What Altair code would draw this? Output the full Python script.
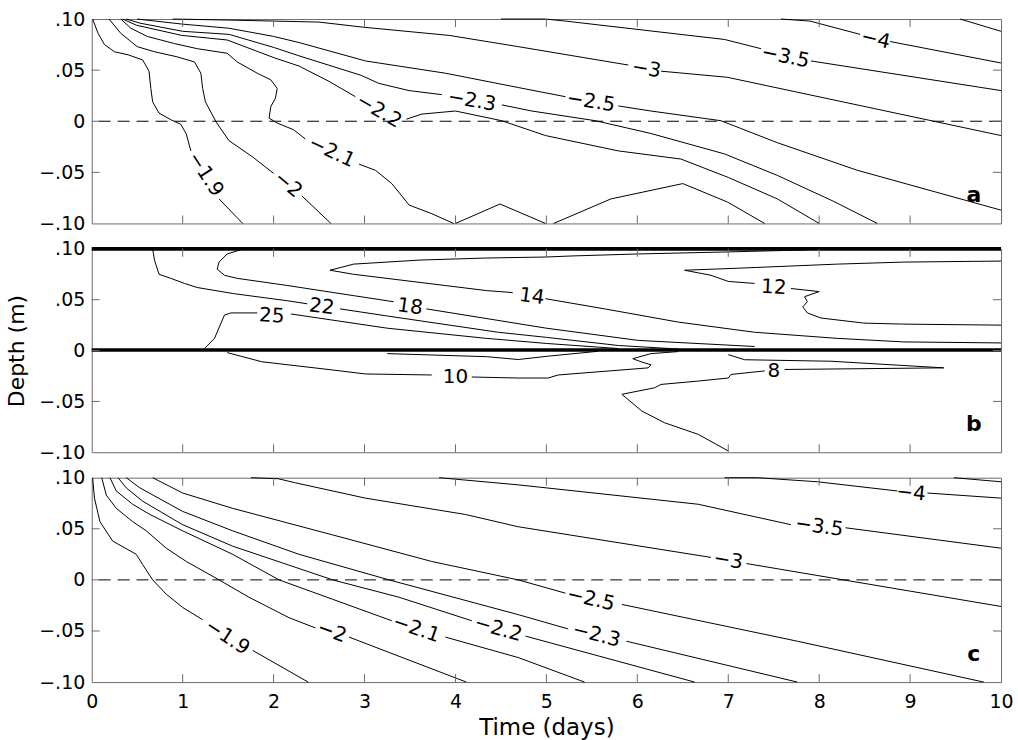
import altair as alt
import pandas as pd

# ---------------- shared axis values ----------------
X_TICK_LABELS = [0, 1, 2, 3, 4, 5, 6, 7, 8, 9, 10]
X_TICK_INNER = [1, 2, 3, 4, 5, 6, 7, 8, 9]
Y_TICK_LABELS = [-0.10, -0.05, 0.0, 0.05, 0.10]
Y_TICK_INNER = [-0.05, 0.0, 0.05]
ZERO_LINE = [0.0]

# ---------------- panel a (None = gap for the inline label) ----------------
A_19_X = [0.01, 0.07, 0.14, 0.25, 0.40, 0.56, 0.63, 0.65, 0.67, 0.74, 0.87, 0.98, 1.04, 1.09, None, 1.40, 1.66]
A_19_Y = [0.100, 0.086, 0.075, 0.068, 0.065, 0.060, 0.049, 0.032, 0.019, 0.008, 0.0015, -0.003, -0.0125, -0.029, None, -0.076, -0.100]
A_20_X = [0.19, 0.32, 0.50, 0.69, 0.94, 1.13, 1.20, 1.22, 1.25, 1.37, 1.51, 1.77, 2.00, None, 2.31, 2.63]
A_20_Y = [0.100, 0.086, 0.073, 0.068, 0.063, 0.058, 0.047, 0.032, 0.019, -0.001, -0.019, -0.035, -0.051, None, -0.073, -0.100]
A_21_X = [0.32, 0.43, 0.61, 0.91, 1.16, 1.49, 1.60, 1.82, 1.97, 2.04, 2.02, 1.97, 1.95, 2.04, 2.22, 2.35, None, 2.94, 3.12, 3.30, 3.49, 3.74, 3.98]
A_21_Y = [0.100, 0.091, 0.083, 0.076, 0.071, 0.0665, 0.058, 0.047, 0.0405, 0.032, 0.0226, 0.0144, 0.0031, -0.0018, -0.0083, -0.0174, None, -0.042, -0.048, -0.061, -0.082, -0.0905, -0.100]
A_22_X = [0.34, 0.49, 0.99, 1.49, 2.01, 2.28, 2.61, 2.90, None, 3.46, 3.63, 4.00, 4.51, 4.99, 5.79, 6.48, 7.00, 7.54, 8.00]
A_22_Y = [0.100, 0.094, 0.084, 0.0795, 0.062, 0.054, 0.039, 0.024, None, 0.002, 0.007, 0.010, 0.0005, -0.014, -0.029, -0.037, -0.055, -0.076, -0.100]
A_23_X = [0.38, 0.53, 1.00, 1.51, 2.01, 2.28, 2.96, 3.16, 3.49, 3.85, None, 4.51, 4.84, 5.54, 6.15, 6.96, 7.54, 8.15, 8.64]
A_23_Y = [0.100, 0.096, 0.088, 0.085, 0.072, 0.064, 0.045, 0.037, 0.030, 0.026, None, 0.016, 0.010, 0.0005, -0.012, -0.032, -0.053, -0.078, -0.100]
A_25_X = [0.50, 1.00, 1.51, 2.00, 2.28, 3.01, 3.89, 4.69, 5.21, None, 5.79, 6.15, 6.92, 7.54, 8.42, 10.0]
A_25_Y = [0.100, 0.095, 0.091, 0.083, 0.077, 0.059, 0.047, 0.033, 0.024, None, 0.015, 0.010, 0.0005, -0.021, -0.048, -0.087]
A_30_X = [0.89, 1.51, 2.50, 2.99, 3.93, 4.69, 5.90, None, 6.26, 6.99, 10.0]
A_30_Y = [0.100, 0.099, 0.097, 0.092, 0.084, 0.073, 0.055, None, 0.049, 0.043, -0.014]
A_35_X = [4.50, 4.99, 5.21, 6.96, 7.36, None, 7.91, 10.0]
A_35_Y = [0.100, 0.100, 0.098, 0.080, 0.071, None, 0.059, 0.030]
A_40_X = [7.58, 7.90, 8.45, None, 8.78, 10.0]
A_40_Y = [0.100, 0.098, 0.085, None, 0.078, 0.057]
A_45_X = [9.55, 10.0]
A_45_Y = [0.100, 0.088]
A_V1_X = [4.00, 4.49, 4.99]
A_V1_Y = [-0.100, -0.081, -0.100]
A_V2_X = [5.08, 5.71, 6.50, 6.99, 7.40]
A_V2_Y = [-0.100, -0.076, -0.061, -0.079, -0.100]

A_LAB_T = ["−1.9", "−2", "−2.1", "−2.2", "−2.3", "−2.5", "−3", "−3.5", "−4"]
A_LAB_X = [1.25, 2.16, 2.64, 3.16, 4.18, 5.49, 6.10, 7.63, 8.62]
A_LAB_Y = [-0.052, -0.062, -0.030, 0.010, 0.020, 0.019, 0.051, 0.063, 0.080]
A_LAB_ANG = [57, 40, 25, 30, 10, 9, 10, 12, 13]

# ---------------- panel b ----------------
B_TOP_X = [0.0, 10.0]
B_TOP_Y = [0.100, 0.100]
B_MID_X = [0.0, 10.0]
B_MID_Y = [0.0005, 0.0005]
B_25_X = [1.24, 1.35, 1.46, 1.53, 1.82, None, 2.19, 3.25, 4.34, 5.00, 5.79]
B_25_Y = [0.002, 0.012, 0.035, 0.037, 0.037, None, 0.036, 0.022, 0.012, 0.007, 0.002]
B_22_X = [0.67, 0.69, 0.74, 0.87, 1.02, 1.16, 1.56, 2.15, 2.37, None, 2.73, 3.25, 4.47, 5.00, 5.79, 6.45]
B_22_Y = [0.100, 0.089, 0.075, 0.071, 0.066, 0.062, 0.056, 0.049, 0.046, None, 0.041, 0.034, 0.018, 0.013, 0.005, 0.0015]
B_18_X = [1.67, 1.49, 1.40, 1.38, 1.46, 1.60, 2.15, 2.88, 3.32, None, 3.68, 5.00, 6.01, 7.29]
B_18_Y = [0.100, 0.095, 0.087, 0.080, 0.074, 0.071, 0.064, 0.054, 0.048, None, 0.041, 0.022, 0.010, 0.004]
B_14_X = [7.87, 7.00, 6.01, 5.27, 5.00, 4.34, 3.61, 2.88, 2.62, 2.88, 3.61, 4.34, 4.63, None, 4.99, 5.64, 6.45, 7.29, 8.20, 8.93, 10.0]
B_14_Y = [0.099, 0.097, 0.095, 0.093, 0.092, 0.091, 0.089, 0.085, 0.079, 0.075, 0.067, 0.059, 0.057, None, 0.051, 0.041, 0.028, 0.018, 0.012, 0.0085, 0.0075]
B_12_X = [10.0, 8.93, 8.20, 7.11, 6.52, 6.81, 7.00, 7.29, None, 7.69, 8.00, 7.84, 7.87, 7.82, 7.87, 8.02, 8.49, 8.93, 10.0]
B_12_Y = [0.088, 0.087, 0.085, 0.081, 0.079, 0.074, 0.068, 0.066, None, 0.061, 0.058, 0.053, 0.048, 0.043, 0.037, 0.032, 0.027, 0.026, 0.025]
B_10_X = [1.49, 1.87, 2.64, 3.01, 3.74, None, 4.18, 4.69, 5.02, 5.13, 6.12, 6.15, 6.04, 5.95, 6.15, 6.45]
B_10_Y = [-0.002, -0.011, -0.019, -0.023, -0.024, None, -0.026, -0.027, -0.027, -0.024, -0.017, -0.014, -0.011, -0.008, -0.003, -0.001]
B_LENS_X = [3.25, 4.34, 4.69, 5.02, 5.57]
B_LENS_Y = [-0.003, -0.006, -0.0088, -0.0055, -0.0007]
B_8_X = [7.00, 7.18, 8.13, 9.37, 7.62, None, 7.40, 7.03, 7.00, 6.67, 6.26, 6.19, 5.83, 6.05, 6.30, 6.67, 7.00]
B_8_Y = [-0.004, -0.009, -0.0105, -0.017, -0.0186, None, -0.020, -0.0235, -0.027, -0.030, -0.0333, -0.0366, -0.043, -0.0595, -0.071, -0.0824, -0.0987]

B_LAB_T = ["25", "22", "18", "14", "12", "10", "8"]
B_LAB_X = [1.98, 2.53, 3.50, 4.84, 7.50, 4.00, 7.50]
B_LAB_Y = [0.034, 0.043, 0.043, 0.053, 0.062, -0.026, -0.0206]
B_LAB_ANG = [3, 7, 8, 8, 3, 0, 0]

# ---------------- panel c ----------------
C_19_X = [0.01, 0.03, 0.09, 0.23, 0.49, 0.56, 0.67, 0.82, 1.00, 1.22, None, 1.77, 2.38]
C_19_Y = [0.100, 0.080, 0.057, 0.038, 0.025, 0.015, 0.000, -0.014, -0.027, -0.039, None, -0.069, -0.100]
C_20_X = [0.11, 0.16, 0.27, 0.45, 0.60, 0.82, 1.04, 1.40, 1.73, 2.17, 2.46, None, 2.83, 4.12]
C_20_Y = [0.100, 0.083, 0.070, 0.057, 0.048, 0.031, 0.018, 0.000, -0.017, -0.037, -0.047, None, -0.056, -0.100]
C_21_X = [0.20, 0.27, 0.45, 0.64, 1.00, 1.55, 2.06, 2.65, 3.30, None, 3.89, 4.69, 5.42]
C_21_Y = [0.100, 0.087, 0.074, 0.064, 0.048, 0.025, 0.000, -0.019, -0.040, None, -0.056, -0.076, -0.100]
C_22_X = [0.29, 0.38, 0.56, 1.00, 1.55, 2.65, 3.38, 4.18, None, 4.77, 6.63]
C_22_Y = [0.100, 0.090, 0.077, 0.054, 0.033, 0.000, -0.017, -0.040, None, -0.055, -0.100]
C_23_X = [0.38, 0.53, 1.00, 1.55, 2.28, 3.27, 4.69, 5.24, None, 5.88, 7.76]
C_23_Y = [0.100, 0.090, 0.067, 0.048, 0.025, 0.000, -0.034, -0.048, None, -0.060, -0.100]
C_25_X = [0.67, 1.00, 1.55, 2.65, 3.74, 4.69, 5.21, None, 5.83, 7.76, 9.81]
C_25_Y = [0.100, 0.085, 0.070, 0.044, 0.018, 0.000, -0.013, None, -0.024, -0.060, -0.100]
C_30_X = [1.75, 2.05, 2.24, 3.01, 4.11, 4.69, 6.81, None, 7.20, 10.0]
C_30_Y = [0.100, 0.099, 0.095, 0.080, 0.064, 0.052, 0.022, None, 0.016, -0.026]
C_35_X = [3.82, 4.69, 6.67, 7.69, None, 8.29, 10.0]
C_35_Y = [0.100, 0.093, 0.074, 0.054, None, 0.051, 0.031]
C_40_X = [6.96, 7.32, 7.98, 8.86, None, 9.19, 10.0]
C_40_Y = [0.100, 0.100, 0.096, 0.087, None, 0.085, 0.080]
C_45_X = [9.48, 10.0]
C_45_Y = [0.100, 0.096]

C_LAB_T = ["−1.9", "−2", "−2.1", "−2.2", "−2.3", "−2.5", "−3", "−3.5", "−4"]
C_LAB_X = [1.49, 2.64, 3.57, 4.47, 5.55, 5.49, 7.00, 8.00, 9.01]
C_LAB_Y = [-0.056, -0.051, -0.048, -0.048, -0.054, -0.019, 0.019, 0.052, 0.085]
C_LAB_ANG = [33, 20, 19, 16, 14, 13, 9.5, 8, 6]

PANEL_LETTERS = ["a", "b", "c"]
LETTER_X = 9.70
LETTER_Y = -0.079

# ---------------- styling ----------------
W = 912
HEIGHTS = [205, 204, 205]
FRAME = "#6a6a6a"
FONT = "DejaVu Sans"
XS = alt.Scale(domain=[0, 10], nice=False, zero=False)
YS = alt.Scale(domain=[-0.1, 0.1], nice=False, zero=False)
YLABEL = "datum.value == 0 ? '0' : replace(format(datum.value, '.2f'), '0.', '.')"


def lines_frame(lines):
    rows = []
    for name, xs, ys in lines:
        seg = 0
        for i, (x, y) in enumerate(zip(xs, ys)):
            if x is None:
                seg += 1
                continue
            rows.append({"x": x, "y": y, "seg": f"{name}-{seg}", "o": i})
    return pd.DataFrame(rows)


def panel(lines, labels, letter, height, dashed, ytitle, show_x, thick=None):
    yaxis = alt.Axis(values=Y_TICK_LABELS, labelExpr=YLABEL, ticks=False,
                     domain=False, grid=False, labelPadding=7, title=ytitle,
                     titlePadding=10, labelFontSize=19, titleFontSize=22)
    if show_x:
        xaxis = alt.Axis(values=X_TICK_LABELS, ticks=False, domain=False, grid=False,
                         labelPadding=10, labelFlush=False, title="Time (days)",
                         titlePadding=6, labelFontSize=19, titleFontSize=23, format="d")
    else:
        xaxis = None

    def X(field):
        return alt.X(field, scale=XS, axis=xaxis)

    def Y(field):
        return alt.Y(field, scale=YS, axis=yaxis)

    df = lines_frame(lines)
    base = alt.Chart(df).mark_line(color="black", strokeWidth=1).encode(
        x=X("x:Q"), y=Y("y:Q"), detail="seg:N", order="o:Q")
    layers = [base]
    if thick is not None:
        tdf = lines_frame(thick)
        layers.append(alt.Chart(tdf).mark_line(color="black", strokeWidth=3.6).encode(
            x=X("x:Q"), y=Y("y:Q"), detail="seg:N", order="o:Q"))
    if dashed:
        layers.append(alt.Chart(pd.DataFrame({"y": ZERO_LINE})).mark_rule(
            color="black", strokeWidth=1, strokeDash=[12, 7]).encode(y=Y("y:Q")))
    ldf = pd.DataFrame({"x": labels[0], "y": labels[1], "t": labels[2], "ang": labels[3]})
    layers.append(alt.Chart(ldf).mark_text(font=FONT, fontSize=20, color="black",
                                            align="center", baseline="middle").encode(
        x=X("x:Q"), y=Y("y:Q"), text="t:N", angle=alt.Angle("ang:Q", scale=None)))
    layers.append(alt.Chart(pd.DataFrame({"x": [LETTER_X], "y": [LETTER_Y], "t": [letter]})).mark_text(
        font=FONT, fontSize=22, fontWeight="bold", color="black", align="center",
        baseline="alphabetic").encode(x=X("x:Q"), y=Y("y:Q"), text="t:N"))
    xt = alt.Chart(pd.DataFrame({"x": X_TICK_INNER})).mark_rule(color=FRAME, strokeWidth=1)
    layers.append(xt.encode(x=X("x:Q"), y=alt.value(height), y2=alt.value(height - 8)))
    layers.append(xt.encode(x=X("x:Q"), y=alt.value(0), y2=alt.value(8)))
    yt = alt.Chart(pd.DataFrame({"y": Y_TICK_INNER})).mark_rule(color=FRAME, strokeWidth=1)
    layers.append(yt.encode(y=Y("y:Q"), x=alt.value(0), x2=alt.value(8)))
    layers.append(yt.encode(y=Y("y:Q"), x=alt.value(W), x2=alt.value(W - 8)))
    return alt.layer(*layers).properties(width=W, height=height)


panel_a = panel(
    [("a19", A_19_X, A_19_Y), ("a20", A_20_X, A_20_Y), ("a21", A_21_X, A_21_Y),
     ("a22", A_22_X, A_22_Y), ("a23", A_23_X, A_23_Y), ("a25", A_25_X, A_25_Y),
     ("a30", A_30_X, A_30_Y), ("a35", A_35_X, A_35_Y), ("a40", A_40_X, A_40_Y),
     ("a45", A_45_X, A_45_Y), ("av1", A_V1_X, A_V1_Y), ("av2", A_V2_X, A_V2_Y)],
    (A_LAB_X, A_LAB_Y, A_LAB_T, A_LAB_ANG), PANEL_LETTERS[0], HEIGHTS[0], True, None, False)

panel_b = panel(
    [("b25", B_25_X, B_25_Y), ("b22", B_22_X, B_22_Y), ("b18", B_18_X, B_18_Y),
     ("b14", B_14_X, B_14_Y), ("b12", B_12_X, B_12_Y), ("b10", B_10_X, B_10_Y),
     ("blens", B_LENS_X, B_LENS_Y), ("b8", B_8_X, B_8_Y)],
    (B_LAB_X, B_LAB_Y, B_LAB_T, B_LAB_ANG), PANEL_LETTERS[1], HEIGHTS[1], False, "Depth (m)", False,
    thick=[("btop", B_TOP_X, B_TOP_Y), ("bmid", B_MID_X, B_MID_Y)])

panel_c = panel(
    [("c19", C_19_X, C_19_Y), ("c20", C_20_X, C_20_Y), ("c21", C_21_X, C_21_Y),
     ("c22", C_22_X, C_22_Y), ("c23", C_23_X, C_23_Y), ("c25", C_25_X, C_25_Y),
     ("c30", C_30_X, C_30_Y), ("c35", C_35_X, C_35_Y), ("c40", C_40_X, C_40_Y),
     ("c45", C_45_X, C_45_Y)],
    (C_LAB_X, C_LAB_Y, C_LAB_T, C_LAB_ANG), PANEL_LETTERS[2], HEIGHTS[2], True, None, True)

chart = alt.vconcat(panel_a, panel_b, panel_c, spacing=25.5, bounds="flush").properties(
    padding={"left": 5, "top": 8, "right": 4, "bottom": 4},
    background="white",
).configure_view(stroke=FRAME, strokeWidth=1).configure_axis(
    labelFont=FONT, titleFont=FONT, labelColor="black", titleColor="black",
    titleFontWeight="normal",
)

chart.save("out.html", embed_options={"renderer": "svg", "actions": False})
